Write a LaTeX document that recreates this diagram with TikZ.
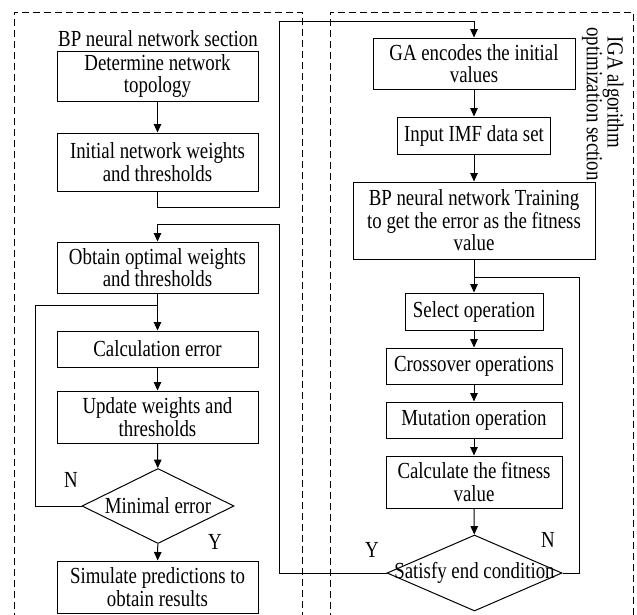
\documentclass[tikz,border=0pt]{standalone}
\usepackage{fontspec}
\setmainfont{Liberation Serif}[FakeStretch=0.82]
\usetikzlibrary{arrows.meta,shapes.geometric}

\tikzset{
  every node/.style={font=\fontsize{23}{22.5}\selectfont},
  procbox/.style={draw, line width=1pt, align=center, inner sep=0pt},
  decision/.style={draw, line width=1pt, diamond, inner sep=0pt},
  flow/.style={line width=1pt},
  arr/.style={flow, -{Triangle[length=8.5pt,width=7.5pt]}},
  frame/.style={line width=0.9pt, dash pattern=on 7pt off 4pt},
  tag/.style={inner sep=0pt}
}

\begin{document}
\begin{tikzpicture}[x=1pt,y=-1pt]
\useasboundingbox (0,0) rectangle (637,614);

% dashed section frames (open at the bottom)
\draw[frame] (14,620) -- (14,12) -- (302,12) -- (302,620);
\draw[frame] (330,620) -- (330,12) -- (633,12) -- (633,620);

% section titles
\node[tag] (ttlbp) at (158,39) {BP neural network section};
\node[tag, rotate=-90] (ttliga1) at (613,92) {IGA algorithm};
\node[tag, rotate=-90] (ttliga2) at (592,104) {optimization section};

% BP neural network section
\node[procbox, minimum width=201pt, minimum height=50pt] (topo) at (157.5,76) {Determine network\\topology};
\node[procbox, minimum width=201pt, minimum height=58pt] (init) at (157.5,162) {Initial network weights\\and thresholds};
\node[procbox, minimum width=201pt, minimum height=51pt] (optw) at (157.5,267.5) {Obtain optimal weights\\and thresholds};
\node[procbox, minimum width=201pt, minimum height=36pt] (calc) at (157.5,349) {Calculation error};
\node[procbox, minimum width=201pt, minimum height=52pt] (upd) at (157.5,417) {Update weights and\\thresholds};
\node[decision, minimum width=152pt, minimum height=75pt] (minerr) at (158,506) {};
\node[tag] (minerrtxt) at (minerr.center) {Minimal error};
\node[procbox, minimum width=201pt, minimum height=52pt] (sim) at (157.5,587) {Simulate predictions to\\obtain results};

% IGA optimization section
\node[procbox, minimum width=202pt, minimum height=51pt] (ga) at (474,63.5) {GA encodes the initial\\values};
\node[procbox, minimum width=153pt, minimum height=37pt] (imf) at (474,135.5) {Input IMF data set};
\node[procbox, minimum width=242pt, minimum height=77pt] (train) at (474,220.5) {BP neural network Training\\to get the error as the fitness\\value};
\node[procbox, minimum width=138pt, minimum height=37pt] (sel) at (474,311.5) {Select operation};
\node[procbox, minimum width=176pt, minimum height=36pt] (cross) at (474,366) {Crossover operations};
\node[procbox, minimum width=176pt, minimum height=36pt] (mut) at (474,420) {Mutation operation};
\node[procbox, minimum width=176pt, minimum height=52pt] (fit) at (474,482) {Calculate the fitness\\value};
\node[decision, minimum width=175pt, minimum height=76pt] (cond) at (474.5,573) {};
\node[tag] (condtxt) at (cond.center) {Satisfy end condition};

% branch labels
\node[tag] (nleft) at (71,480) {N};
\node[tag] (yleft) at (215,542) {Y};
\node[tag] (nright) at (548,540) {N};
\node[tag] (yright) at (372,550) {Y};

% routing points
\coordinate (r1) at (279,207);
\coordinate (r2) at (279,21);
\coordinate (r3) at (579,277);
\coordinate (j2) at (474,277);
\coordinate (r4) at (279,573);
\coordinate (r5) at (279,224);
\coordinate (j1) at (157.5,305);
\coordinate (r6) at (35,506);

% BP flow
\draw[arr] (topo) -- (init);
\draw[arr] (init.south) |- (r1) -- (r2) -| (ga.north);
\draw[arr] (optw) -- (calc);
\draw[arr] (calc) -- (upd);
\draw[arr] (upd) -- (minerr);
\draw[arr] (minerr) -- (sim);
\draw[flow] (minerr.west) -- (r6) |- (j1);

% IGA flow
\draw[arr] (ga) -- (imf);
\draw[arr] (imf) -- (train);
\draw[arr] (train) -- (sel);
\draw[arr] (sel) -- (cross);
\draw[arr] (cross) -- (mut);
\draw[arr] (mut) -- (fit);
\draw[arr] (fit) -- (cond);
\draw[flow] (cond.east) -| (r3) -- (j2);
\draw[arr] (cond.west) -- (r4) -- (r5) -| (optw.north);
\end{tikzpicture}
\end{document}
